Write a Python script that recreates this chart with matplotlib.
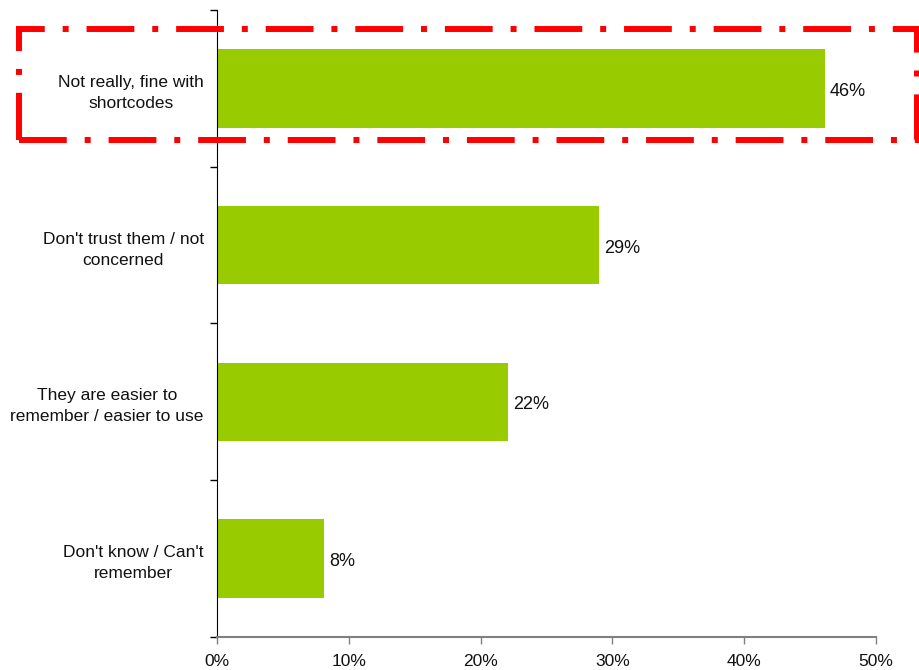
import matplotlib
matplotlib.use("Agg")
import matplotlib.pyplot as plt
from matplotlib.patches import Rectangle
import numpy as np

categories = ["Not really, fine with\nshortcodes",
              "Don't trust them / not\nconcerned",
              "They are easier to\nremember / easier to use",
              "Don't know / Can't\nremember"]
values = [46.1, 29.0, 22.1, 8.1]
value_labels = ["46%", "29%", "22%", "8%"]
xticks = [0, 10, 20, 30, 40, 50]
xtick_labels = ["0%", "10%", "20%", "30%", "40%", "50%"]

plt.rcParams['font.family'] = ['Liberation Sans', 'DejaVu Sans']

fig = plt.figure(figsize=(9.2, 6.7), dpi=100)
W, H = 920, 670
x0, x1 = 217, 876
ytop, ybot = 10, 636.7
ax = fig.add_axes([x0 / W, (H - ybot) / H, (x1 - x0) / W, (ybot - ytop) / H])

y = np.arange(len(categories))
ax.barh(y, values, height=0.5, color="#99CC00")
for yi, v, lab in zip(y, values, value_labels):
    ax.text(v + 0.4, yi + 0.02, lab, va="center", ha="left", fontsize=13, color="#111111")

ax.set_xlim(0, 50)
ax.set_ylim(len(categories) - 0.5, -0.5)
ax.set_xticks(xticks)
ax.set_xticklabels(xtick_labels, fontsize=12.5, color="#111111")
ax.set_yticks(y)
ax.set_yticklabels(categories, fontsize=12.5, color="#111111",
                   multialignment="center", linespacing=1.5)
ax.set_yticks(np.arange(len(categories) + 1) - 0.5, minor=True)
ax.tick_params(axis="y", which="major", length=0, pad=9.5)
ax.tick_params(axis="y", which="minor", length=5, width=1, color="black")
ax.tick_params(axis="x", which="major", length=5, width=1, color="#808080", pad=7.5)

for s in ["top", "right"]:
    ax.spines[s].set_visible(False)
ax.spines["left"].set_color("black")
ax.spines["bottom"].set_color("#808080")
ax.spines["bottom"].set_linewidth(1.5)

rect = Rectangle((19 / W, (H - 139.5) / H), (917 - 19) / W, (139.5 - 29.5) / H,
                 transform=fig.transFigure, fill=False, edgecolor="#FF0000",
                 linewidth=4.3, linestyle=(0, (8, 3, 1, 3)), joinstyle="miter",
                 clip_on=False)
fig.patches.append(rect)

fig.savefig("out.png", dpi=100)
